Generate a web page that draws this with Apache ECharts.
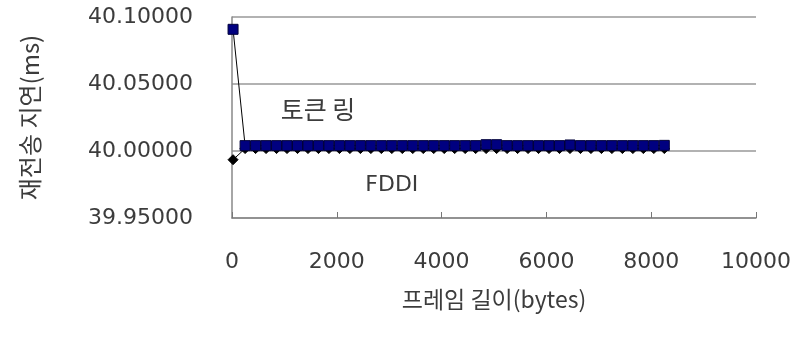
<!DOCTYPE html>
<html>
<head>
<meta charset="utf-8">
<script src="https://cdn.jsdelivr.net/npm/echarts@6/dist/echarts.min.js"></script>
<style>
html,body{margin:0;padding:0;background:#fff;}
#chart{width:801px;height:337px;}
</style>
</head>
<body>
<div id="chart"></div>
<script>
// Frame length (bytes)
const frameBytes = [20, 250, 450, 650, 850, 1050, 1250, 1450, 1650, 1850, 2050, 2250, 2450, 2650, 2850, 3050, 3250, 3450, 3650, 3850, 4050, 4250, 4450, 4650, 4850, 5050, 5250, 5450, 5650, 5850, 6050, 6250, 6450, 6650, 6850, 7050, 7250, 7450, 7650, 7850, 8050, 8250];
// Retransmission delay (ms), token ring
const tokenRing = [40.0908, 40.0040, 40.0040, 40.0040, 40.0040, 40.0040, 40.0040, 40.0040, 40.0040, 40.0040, 40.0040, 40.0040, 40.0040, 40.0040, 40.0040, 40.0040, 40.0040, 40.0040, 40.0040, 40.0040, 40.0040, 40.0040, 40.0040, 40.0040, 40.0047, 40.0047, 40.0040, 40.0040, 40.0040, 40.0040, 40.0040, 40.0040, 40.0045, 40.0040, 40.0040, 40.0040, 40.0040, 40.0040, 40.0040, 40.0040, 40.0040, 40.0042];
// Retransmission delay (ms), FDDI
const fddi = [39.9935, 40.0018, 40.0018, 40.0018, 40.0018, 40.0018, 40.0018, 40.0018, 40.0018, 40.0018, 40.0018, 40.0018, 40.0018, 40.0018, 40.0018, 40.0018, 40.0018, 40.0018, 40.0018, 40.0018, 40.0018, 40.0018, 40.0018, 40.0018, 40.0018, 40.0018, 40.0018, 40.0018, 40.0018, 40.0018, 40.0018, 40.0018, 40.0018, 40.0018, 40.0018, 40.0018, 40.0018, 40.0018, 40.0018, 40.0018, 40.0018, 40.0018];
const seriesNames = ['토큰 링', 'FDDI'];
const xTitle = '프레임 길이(bytes)';
const yTitle = '재전송 지연(ms)';

const pair = (xs, ys) => xs.map((x, i) => [x, ys[i]]);
const numFont = 'DejaVu Sans';
const krFont = '"Noto Sans CJK KR"';
const textColor = '#3c3c3c';

const chart = echarts.init(document.getElementById('chart'), null, {renderer: 'canvas'});
chart.setOption({
  animation: false,
  backgroundColor: '#fff',
  grid: {left: 232, right: 45, top: 17, bottom: 119, containLabel: false},
  xAxis: {
    type: 'value', min: 0, max: 10000, interval: 2000,
    name: xTitle, nameLocation: 'middle', nameGap: 70,
    nameTextStyle: {fontFamily: krFont, fontSize: 23, color: textColor},
    axisLine: {show: true, lineStyle: {color: '#888', width: 1.5}},
    axisTick: {show: true, inside: true, length: 6, lineStyle: {color: '#777'}},
    axisLabel: {fontFamily: numFont, fontSize: 22, color: textColor, margin: 33,
      formatter: v => String(v)},
    splitLine: {show: false}
  },
  yAxis: {
    type: 'value', min: 39.95, max: 40.10, interval: 0.05,
    name: yTitle, nameLocation: 'middle', nameGap: 190, nameRotate: 90,
    nameTextStyle: {fontFamily: krFont, fontSize: 24, color: textColor},
    axisLine: {show: true, lineStyle: {color: '#888', width: 1.5}},
    axisTick: {show: false},
    axisLabel: {fontFamily: numFont, fontSize: 22, color: textColor, margin: 39,
      formatter: v => v.toFixed(5)},
    splitLine: {show: true, lineStyle: {color: '#999', width: 1.5}}
  },
  series: [
    {
      name: seriesNames[1], type: 'line', data: pair(frameBytes, fddi),
      symbol: 'diamond', symbolSize: 10,
      itemStyle: {color: '#000', borderColor: '#000'},
      lineStyle: {color: '#000', width: 1},
      z: 2,
      markPoint: {
        symbol: 'rect', symbolSize: 1, itemStyle: {color: 'rgba(0,0,0,0)'},
        label: {show: true, position: 'inside', formatter: 'FDDI',
          fontFamily: numFont, fontSize: 22, color: textColor},
        data: [{coord: [3050, 39.9746]}]
      }
    },
    {
      name: seriesNames[0], type: 'line', data: pair(frameBytes, tokenRing),
      symbol: 'rect', symbolSize: 10,
      itemStyle: {color: '#000080', borderColor: '#00003a', borderWidth: 1},
      lineStyle: {color: '#000', width: 1},
      z: 3,
      markPoint: {
        symbol: 'rect', symbolSize: 1, itemStyle: {color: 'rgba(0,0,0,0)'},
        label: {show: true, position: 'inside', formatter: '토큰 링',
          fontFamily: krFont, fontSize: 25, color: textColor},
        data: [{coord: [1640, 40.0306]}]
      }
    }
  ]
});
</script>
</body>
</html>
